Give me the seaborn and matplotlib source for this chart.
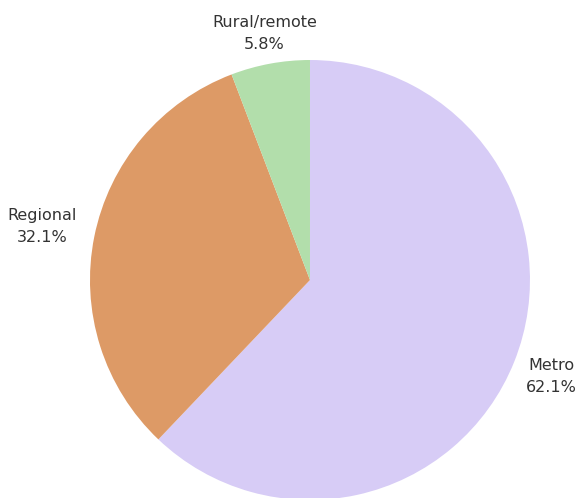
import matplotlib
matplotlib.use("Agg")
import matplotlib.pyplot as plt
import seaborn as sns
import numpy as np

categories = ["Metro", "Regional", "Rural/remote"]
shares = [62.1, 32.1, 5.8]
colors = ["#d7ccf6", "#dd9a66", "#b2deab"]

sns.set_theme(style="white")
plt.rcParams['font.family'] = ['DejaVu Sans']

fig = plt.figure(figsize=(5.75, 4.98), dpi=100)
ax = fig.add_axes([0.1565, -0.004, 0.7652, 0.8835])
labels = [f"{c}\n{v:.1f}%" for c, v in zip(categories, shares)]
wedges, texts = ax.pie(shares, labels=labels, colors=colors, startangle=90,
                       counterclock=False, labeldistance=1.18,
                       wedgeprops=dict(linewidth=0),
                       textprops=dict(fontsize=11.5, color="#333333"))
dists = [1.18, 1.24, 1.14]
for w, t, d in zip(wedges, texts, dists):
    ang = np.deg2rad((w.theta1 + w.theta2) / 2)
    t.set_position((d * np.cos(ang), d * np.sin(ang)))
    t.set_ha("center")
    t.set_va("center")
    t.set_multialignment("center")
    t.set_linespacing(1.55)
ax.set_xlim(-1, 1)
ax.set_ylim(-1, 1)
ax.set_aspect("auto")
fig.savefig("out.png", dpi=100, facecolor="white")
